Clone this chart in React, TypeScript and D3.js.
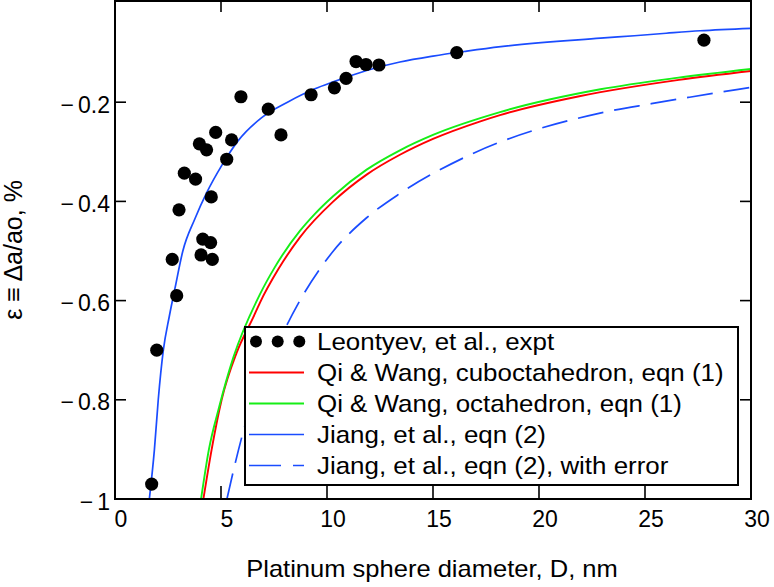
import React, { useEffect, useRef } from "react";
import * as d3 from "d3";

// Leontyev, et al., expt  [D nm, strain %]
const exptD = [
  5.94, 7.23, 7.83, 9.25, 4.75, 3.98, 4.32, 5.5, 5.27, 3.27, 3.8, 4.54, 3.02, 4.14,
  4.51, 4.06, 4.59, 2.7, 2.91, 1.97, 1.73, 10.35, 10.9, 11.37, 11.84, 12.45, 16.12, 27.78,
];
const exptEps = [
  -0.189, -0.214, -0.266, -0.185, -0.261, -0.284, -0.296, -0.276, -0.315, -0.343, -0.355,
  -0.391, -0.417, -0.476, -0.483, -0.508, -0.517, -0.517, -0.59, -0.7, -0.97, -0.171,
  -0.152, -0.118, -0.124, -0.125, -0.1, -0.075,
];

// Qi & Wang, cuboctahedron
const cuboD = [4.17, 4.56, 5.03, 5.74, 6.52, 6.84, 7.7, 8.73, 10.3, 11.87, 13.44, 15.0, 17.2, 18.16, 21.9, 26.6, 30];
const cuboEps = [-1.0, -0.9, -0.8, -0.705, -0.634, -0.604, -0.537, -0.472, -0.4, -0.346, -0.306, -0.274, -0.239, -0.226, -0.188, -0.155, -0.137];

// Qi & Wang, octahedron
const octaD = [4.06, 4.43, 4.91, 5.58, 6.84, 7.52, 8.73, 9.43, 10.3, 11.87, 13.44, 15.0, 18.16, 22.9, 26.5, 30];
const octaEps = [-1.0, -0.9, -0.815, -0.715, -0.587, -0.534, -0.459, -0.425, -0.389, -0.336, -0.297, -0.266, -0.22, -0.174, -0.151, -0.133];

// Jiang, et al., eqn (2)
const jiangD = [
  1.62, 1.86, 2.04, 2.28, 2.56, 2.83, 3.2, 3.77, 4.32, 5.03, 5.82, 6.92, 8.18, 9.43, 10.3,
  11.87, 13.44, 15.0, 16.6, 18.2, 22.9, 24.5, 26.0, 27.6, 30,
];
const jiangEps = [
  -1.0, -0.9, -0.8, -0.7, -0.632, -0.575, -0.5, -0.435, -0.383, -0.328, -0.277, -0.231, -0.199,
  -0.173, -0.159, -0.136, -0.119, -0.107, -0.097, -0.088, -0.071, -0.066, -0.061, -0.056, -0.051,
];

// Jiang, et al., eqn (2), with error
const jiangErrD = [5.28, 5.63, 6.05, 8.04, 8.68, 10.3, 11.87, 13.44, 16.5, 22.88, 25.3, 27.1, 29.4, 30];
const jiangErrEps = [-1.0, -0.935, -0.864, -0.655, -0.603, -0.5, -0.433, -0.384, -0.311, -0.222, -0.203, -0.19, -0.174, -0.17];

const xInnerTicks = [5, 10, 15, 20, 25];
const xTickLabels = [0, 5, 10, 15, 20, 25, 30];
const yInnerTicks = [-0.2, -0.4, -0.6, -0.8];
const yTickLabels = [-0.2, -0.4, -0.6, -0.8, -1];

const legendLabels = [
  "Leontyev, et al., expt",
  "Qi & Wang, cuboctahedron, eqn (1)",
  "Qi & Wang, octahedron, eqn (1)",
  "Jiang, et al., eqn (2)",
  "Jiang, et al., eqn (2), with error",
];

const App = () => {
  const svgRef = useRef<SVGSVGElement>(null);
  const width = 774;
  const height = 587;

  useEffect(() => {
    const svg = d3.select(svgRef.current);
    svg.selectAll("*").remove();

    const left = 115;
    const right = 751;
    const top = 1;
    const bottom = 499;
    const font = "'Liberation Sans', Arial, sans-serif";

    const xScale = d3.scaleLinear().domain([0, 30]).range([left, right]);
    const yScale = d3.scaleLinear().domain([-1, 0]).range([bottom, 3]);

    svg
      .append("defs")
      .append("clipPath")
      .attr("id", "plot-clip")
      .append("rect")
      .attr("x", left)
      .attr("y", top)
      .attr("width", right - left)
      .attr("height", bottom - top);

    const line = d3
      .line<[number, number]>()
      .x((d) => xScale(d[0]))
      .y((d) => yScale(d[1]))
      .curve(d3.curveMonotoneX);

    const series = [
      { d: cuboD, e: cuboEps, color: "#ff0000", dash: null, w: 1.9 },
      { d: octaD, e: octaEps, color: "#16ee16", dash: null, w: 1.9 },
      { d: jiangD, e: jiangEps, color: "#1a4cff", dash: null, w: 1.7 },
      { d: jiangErrD, e: jiangErrEps, color: "#1a4cff", dash: "26 11", w: 1.7 },
    ];

    const plot = svg.append("g").attr("clip-path", "url(#plot-clip)");

    series.forEach((s) => {
      const pts = s.d.map((v, i) => [v, s.e[i]] as [number, number]);
      plot
        .append("path")
        .attr("d", line(pts))
        .attr("fill", "none")
        .attr("stroke", s.color)
        .attr("stroke-width", s.w)
        .attr("stroke-dasharray", s.dash);
    });

    plot
      .selectAll("circle.expt")
      .data(exptD)
      .join("circle")
      .attr("class", "expt")
      .attr("cx", (d) => xScale(d))
      .attr("cy", (d, i) => yScale(exptEps[i]))
      .attr("r", 6.6)
      .attr("fill", "black");

    // inward ticks on all four sides
    const ticks = svg.append("g").attr("stroke", "black").attr("stroke-width", 1.6);
    xInnerTicks.forEach((t) => {
      ticks.append("line").attr("x1", xScale(t)).attr("x2", xScale(t)).attr("y1", bottom).attr("y2", bottom - 13);
      ticks.append("line").attr("x1", xScale(t)).attr("x2", xScale(t)).attr("y1", top).attr("y2", top + 11);
    });
    yInnerTicks.forEach((t) => {
      ticks.append("line").attr("x1", left).attr("x2", left + 11).attr("y1", yScale(t)).attr("y2", yScale(t));
      ticks.append("line").attr("x1", right).attr("x2", right - 11).attr("y1", yScale(t)).attr("y2", yScale(t));
    });

    svg
      .append("rect")
      .attr("x", left)
      .attr("y", top)
      .attr("width", right - left)
      .attr("height", bottom - top)
      .attr("fill", "none")
      .attr("stroke", "black")
      .attr("stroke-width", 2);

    // tick labels
    svg
      .append("g")
      .selectAll("text")
      .data(xTickLabels)
      .join("text")
      .attr("x", (d) => xScale(d) + 6)
      .attr("y", 527)
      .attr("text-anchor", "middle")
      .attr("font-family", font)
      .attr("font-size", 23)
      .text((d) => d);

    const yLab = svg
      .append("g")
      .selectAll("text")
      .data(yTickLabels)
      .join("text")
      .attr("x", 110)
      .attr("y", (d) => yScale(d) + 10.5)
      .attr("text-anchor", "end")
      .attr("font-family", font)
      .attr("font-size", 23);
    yLab.append("tspan").text("\u2212");
    yLab
      .append("tspan")
      .attr("dx", 4)
      .text((d) => String(Math.abs(d)));

    // axis titles
    svg
      .append("text")
      .attr("transform", "translate(432, 577) scale(1.11, 1)")
      .attr("text-anchor", "middle")
      .attr("font-family", font)
      .attr("font-size", 23)
      .text("Platinum sphere diameter, D, nm");

    svg
      .append("text")
      .attr("transform", "translate(22, 250) rotate(-90)")
      .attr("text-anchor", "middle")
      .attr("font-family", font)
      .attr("font-size", 25)
      .text("\u03b5 \u2261 \u0394a/ao, %");

    // legend
    const legend = svg.append("g");
    legend
      .append("rect")
      .attr("x", 245)
      .attr("y", 327)
      .attr("width", 493)
      .attr("height", 158)
      .attr("fill", "white")
      .attr("stroke", "black")
      .attr("stroke-width", 2);

    const rowY = (i: number) => 341.5 + i * 31;
    [256, 277.7, 299.3].forEach((cx) => {
      legend.append("circle").attr("cx", cx).attr("cy", rowY(0)).attr("r", 6).attr("fill", "black");
    });
    series.forEach((s, i) => {
      legend
        .append("line")
        .attr("x1", 249)
        .attr("x2", 304)
        .attr("y1", rowY(i + 1))
        .attr("y2", rowY(i + 1))
        .attr("stroke", s.color)
        .attr("stroke-width", s.w)
        .attr("stroke-dasharray", s.dash ? "32 12" : null);
    });
    legendLabels.forEach((label, i) => {
      legend
        .append("text")
        .attr("transform", `translate(317, ${rowY(i) + 8.5}) scale(1.08, 1)`)
        .attr("font-family", font)
        .attr("font-size", 24)
        .text(label);
    });
  }, []);

  return (
    <svg
      ref={svgRef}
      width={width}
      height={height}
      style={{ position: "absolute", left: 0, top: 0, background: "white" }}
    ></svg>
  );
};

export default App;
